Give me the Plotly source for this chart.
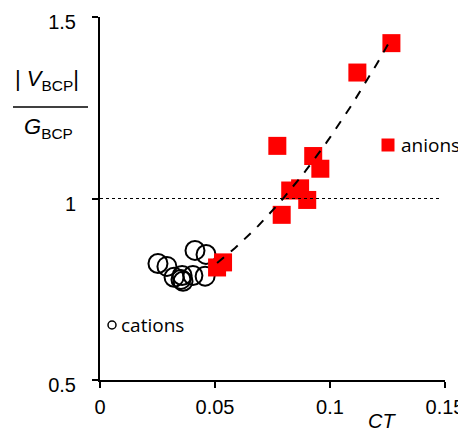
import numpy as np
import plotly.graph_objects as go

# anions (red squares)
anion_ct = [0.1267, 0.1119, 0.0771, 0.0927, 0.0958, 0.0870, 0.0827, 0.0901, 0.0790, 0.0509, 0.0535]
anion_ratio = [1.428, 1.347, 1.145, 1.117, 1.082, 1.028, 1.022, 0.996, 0.955, 0.810, 0.824]

# cations (open circles)
cation_ct = [0.0252, 0.0291, 0.0413, 0.0461, 0.0322, 0.0352, 0.0361, 0.0357, 0.0404, 0.0457]
cation_ratio = [0.821, 0.813, 0.857, 0.846, 0.783, 0.777, 0.772, 0.788, 0.788, 0.786]

x_ticks = [0, 0.05, 0.1, 0.15]
x_ticklabels = ["0", "0.05", "0.1", "0.15"]
y_ticks = [0.5, 1, 1.5]
y_ticklabels = ["0.5", "1", "1.5"]

# quadratic trendline through the anion data
coef = np.polyfit(anion_ct, anion_ratio, 2)
fit_x = np.linspace(min(anion_ct), max(anion_ct), 60)
fit_y = np.polyval(coef, fit_x)

fig = go.Figure()

fig.add_trace(go.Scatter(
    x=cation_ct, y=cation_ratio, mode="markers", name="cations", showlegend=False,
    marker=dict(symbol="circle-open", size=19, color="black", line=dict(width=2, color="black")),
))
fig.add_trace(go.Scatter(
    x=anion_ct, y=anion_ratio, mode="markers", name="anions", showlegend=False,
    marker=dict(symbol="square", size=18, color="#ff0000", line=dict(width=0)),
))
fig.add_trace(go.Scatter(
    x=fit_x, y=fit_y, mode="lines", name="fit", showlegend=False,
    line=dict(color="black", width=2, dash="dash"),
))

# dotted reference line at 1
fig.add_shape(type="line", xref="x", yref="y", x0=0, x1=0.148, y0=1, y1=1,
              line=dict(color="black", width=1, dash="dot"))

W = 345.0
H = 363.0
def px2x(px):
    return (px - 100) / W
def py2y(py):
    return (380 - py) / H

# legend keys (drawn as layout decorations)
fig.add_shape(type="rect", xref="paper", yref="paper",
              x0=px2x(381.5), x1=px2x(394.5), y0=py2y(151.5), y1=py2y(138.5),
              fillcolor="#ff0000", line=dict(width=0))
fig.add_shape(type="circle", xref="paper", yref="paper",
              x0=px2x(108), x1=px2x(116), y0=py2y(329), y1=py2y(321),
              fillcolor="white", line=dict(width=1.5, color="black"))
fig.add_annotation(xref="paper", yref="paper", x=px2x(399), y=py2y(145),
                   text="anions", showarrow=False,
                   font=dict(family="Open Sans", size=19, color="black"),
                   xanchor="left", yanchor="middle")
fig.add_annotation(xref="paper", yref="paper", x=px2x(119), y=py2y(325),
                   text="cations", showarrow=False,
                   font=dict(family="Open Sans", size=19, color="black"),
                   xanchor="left", yanchor="middle")

# y-axis title as a fraction
fig.add_shape(type="line", xref="paper", yref="paper",
              x0=px2x(13), x1=px2x(88), y0=py2y(107), y1=py2y(107),
              line=dict(color="black", width=1.5))
fig.add_annotation(xref="paper", yref="paper", x=px2x(47), y=py2y(80),
                   text="|&nbsp;<i>V</i><sub>BCP</sub>|", showarrow=False,
                   font=dict(family="Liberation Sans", size=22, color="black"),
                   xanchor="center", yanchor="middle")
fig.add_annotation(xref="paper", yref="paper", x=px2x(48), y=py2y(128),
                   text="<i>G</i><sub>BCP</sub>", showarrow=False,
                   font=dict(family="Liberation Sans", size=22, color="black"),
                   xanchor="center", yanchor="middle")
fig.add_annotation(xref="paper", yref="paper", x=px2x(382), y=py2y(421),
                   text="<i>CT</i>", showarrow=False,
                   font=dict(family="Liberation Sans", size=20, color="black"),
                   xanchor="center", yanchor="middle")

fig.update_layout(
    width=458, height=424,
    margin=dict(l=92, r=21, t=9, b=52, autoexpand=False),
    paper_bgcolor="white", plot_bgcolor="white",
    font=dict(family="Liberation Sans", size=20, color="black"),
    showlegend=False,
    xaxis=dict(range=[0, 0.15], tickvals=x_ticks, ticktext=x_ticklabels, automargin=False,
               showgrid=False, zeroline=False, showline=True, linecolor="black", linewidth=2,
               ticks="outside", ticklen=6, tickwidth=2, tickcolor="black",
               tickfont=dict(size=20), ticklabelstandoff=2, ticklabeloverflow="allow"),
    yaxis=dict(range=[0.5, 1.5], tickvals=y_ticks, ticktext=y_ticklabels, automargin=False,
               showgrid=False, zeroline=False, showline=True, linecolor="black", linewidth=2,
               ticks="outside", ticklen=6, tickwidth=2, tickcolor="black",
               tickfont=dict(size=20), ticklabelstandoff=12, ticklabelshift=5,
               ticklabeloverflow="allow"),
)

fig.write_html("out.html")
